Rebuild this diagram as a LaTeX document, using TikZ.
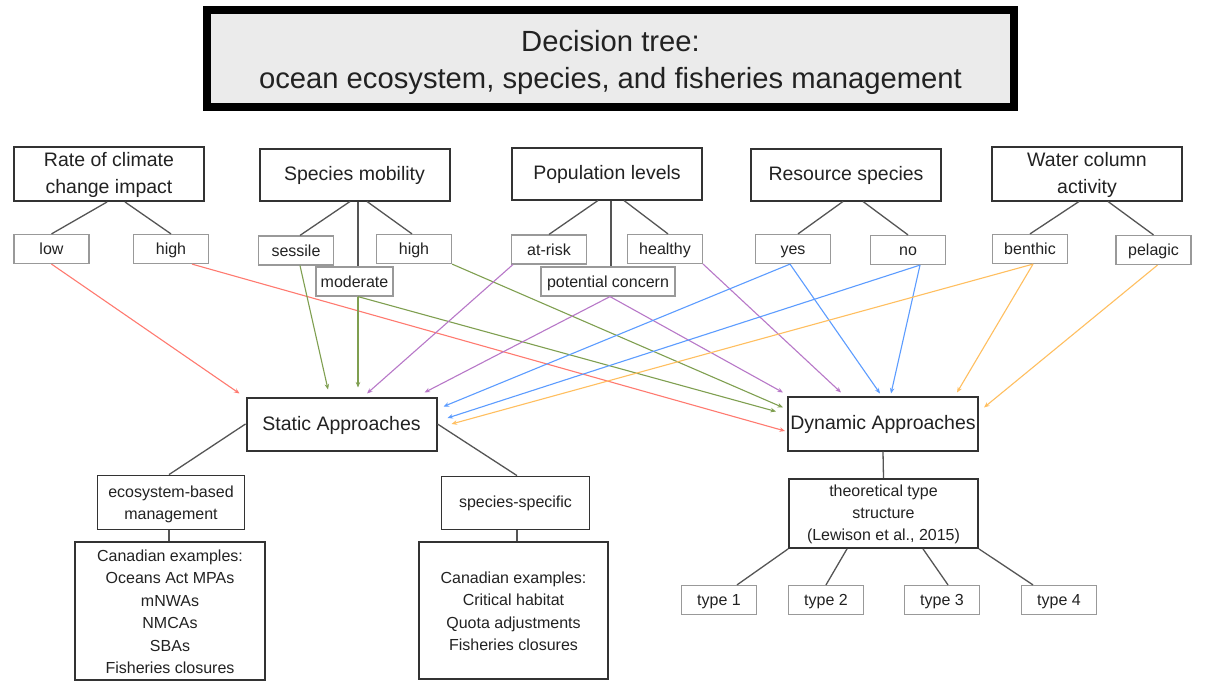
\documentclass[tikz,border=0pt]{standalone}
\usepackage{fontspec}
\setmainfont{Liberation Sans}
\usetikzlibrary{arrows.meta}
\definecolor{txt}{HTML}{222222}
\definecolor{catcol}{HTML}{333333}
\definecolor{optcol}{HTML}{999999}
\definecolor{linecol}{HTML}{555555}
\definecolor{titlefill}{HTML}{EBEBEB}
\definecolor{cred}{HTML}{FF7A70}
\definecolor{cgreen}{HTML}{7F9F50}
\definecolor{cpurple}{HTML}{B878C8}
\definecolor{cblue}{HTML}{5C9CFF}
\definecolor{corange}{HTML}{FFBF60}
\newcommand{\tx}[2]{\raisebox{#1}[\height][\depth]{\begin{tabular}{@{}c@{}}#2\end{tabular}}}
\tikzset{
  titlebox/.style={draw=black, line width=8pt, fill=titlefill, minimum width=807pt, minimum height=97pt, inner sep=0pt, text=txt, font=\fontsize{29.2}{37}\selectfont},
  catbox/.style={draw=catcol, line width=2pt, minimum width=190pt, minimum height=52pt, inner sep=0pt, text=txt, font=\fontsize{19.5}{27}\selectfont},
  optbox/.style={draw=optcol, line width=1.2pt, minimum width=75pt, minimum height=29pt, inner sep=0pt, text=txt, font=\fontsize{16}{18}\selectfont},
  apprbox/.style={draw=catcol, line width=2pt, minimum width=190pt, minimum height=53pt, inner sep=0pt, text=txt, font=\fontsize{19.5}{22}\selectfont},
  subbox/.style={draw=catcol, line width=1.8pt, inner sep=0pt, text=txt, font=\fontsize{16}{22}\selectfont},
  exbox/.style={draw=catcol, line width=2pt, inner sep=0pt, text=txt, font=\fontsize{16}{22.5}\selectfont},
  tline/.style={draw=linecol, line width=1.3pt},
  arr/.style={line width=1.1pt, -{Stealth[length=5.5pt,width=4.5pt]}}
}
\begin{document}
\begin{tikzpicture}[x=1pt,y=-1pt]
\useasboundingbox (0,0) rectangle (1221,685);
\fill[white] (0,0) rectangle (1221,685);

% title
\node[titlebox] (title) at (610.5,58.5) {\tx{-4.3pt}{Decision tree:\\ocean ecosystem, species, and fisheries management}};

% categories
\node[catbox] (clim) at (109,174) {\tx{-1pt}{Rate of climate\\change impact}};
\node[catbox] (mob) at (354.5,174.5) {\tx{-1pt}{Species mobility}};
\node[catbox] (pop) at (607,173.5) {\tx{-1pt}{Population levels}};
\node[catbox] (res) at (846,174.5) {\tx{-1pt}{Resource species}};
\node[catbox] (wat) at (1087,173.5) {\tx{-1pt}{Water column\\activity}};

% options
\node[optbox] (low) at (51.5,249) {\tx{-2pt}{low}};
\node[optbox] (chigh) at (171,249) {\tx{-2pt}{high}};
\node[optbox] (sessile) at (296,250.5) {\tx{-2pt}{sessile}};
\node[optbox] (mhigh) at (414,249) {\tx{-2pt}{high}};
\node[optbox, minimum width=77pt] (moderate) at (354.5,281.5) {\tx{-2pt}{moderate}};
\node[optbox] (atrisk) at (549,249.5) {\tx{-2pt}{at-risk}};
\node[optbox, minimum width=134pt] (potential) at (608,281.5) {\tx{-2pt}{potential concern}};
\node[optbox] (healthy) at (665,249) {\tx{-2pt}{healthy}};
\node[optbox] (yes) at (793,249) {\tx{-2pt}{yes}};
\node[optbox] (no) at (908,250) {\tx{-2pt}{no}};
\node[optbox] (benthic) at (1030,249) {\tx{-2pt}{benthic}};
\node[optbox] (pelagic) at (1153.5,250) {\tx{-2pt}{pelagic}};

% tree lines (categories)
\draw[tline] ([xshift=-2]clim.south) -- (low.north);
\draw[tline] ([xshift=16]clim.south) -- (chigh.north);
\draw[tline] ([xshift=-4.5]mob.south) -- ([xshift=4]sessile.north);
\draw[tline] ([xshift=3.5]mob.south) -- ([xshift=3.5]moderate.north);
\draw[tline] ([xshift=12.5]mob.south) -- ([xshift=-2]mhigh.north);
\draw[tline] ([xshift=-9]pop.south) -- (atrisk.north);
\draw[tline] ([xshift=4]pop.south) -- ([xshift=3]potential.north);
\draw[tline] ([xshift=17]pop.south) -- ([xshift=3]healthy.north);
\draw[tline] ([xshift=-3]res.south) -- ([xshift=5]yes.north);
\draw[tline] ([xshift=17]res.south) -- (no.north);
\draw[tline] ([xshift=-8]wat.south) -- (benthic.north);
\draw[tline] ([xshift=21]wat.south) -- (pelagic.north);

% approaches
\node[apprbox] (static) at (341.5,424) {\tx{-1.8pt}{Static Approaches}};
\node[apprbox, minimum height=54pt] (dynamic) at (883,423.5) {\tx{-2pt}{Dynamic Approaches}};

% arrows: red
\draw[arr, cred] (low.south) -- ([shift={(-6,-3)}]static.north west);
\draw[arr, cred] ([xshift=21]chigh.south) -- ([shift={(-2,7.5)}]dynamic.west);
% green
\draw[arr, cgreen] ([xshift=4]sessile.south) -- ([shift={(-13.5,-7)}]static.north);
\draw[arr, cgreen] ([xshift=3.5]moderate.south) -- ([shift={(16.5,-9)}]static.north);
\draw[arr, cgreen] ([xshift=3.5]moderate.south) -- ([shift={(-11,16)}]dynamic.north west);
\draw[arr, cgreen] (mhigh.south east) -- ([shift={(-4,12)}]dynamic.north west);
% purple
\draw[arr, cpurple] ([xshift=2]atrisk.south west) -- ([shift={(25.5,-3)}]static.north);
\draw[arr, cpurple] ([xshift=2]potential.south) -- ([shift={(-13,-4)}]static.north east);
\draw[arr, cpurple] ([xshift=2]potential.south) -- ([shift={(-4,-3)}]dynamic.north west);
\draw[arr, cpurple] (healthy.south east) -- ([shift={(-42,-3)}]dynamic.north);
% blue
\draw[arr, cblue] ([xshift=-3]yes.south) -- ([shift={(6,10)}]static.north east);
\draw[arr, cblue] ([xshift=-3]yes.south) -- ([shift={(-3,-2)}]dynamic.north);
\draw[arr, cblue] ([xshift=12]no.south) -- ([shift={(8,-2)}]dynamic.north);
\draw[arr, cblue] ([xshift=12]no.south) -- ([shift={(10,-6)}]static.east);
% orange
\draw[arr, corange] ([xshift=3]benthic.south) -- ([shift={(14,0)}]static.east);
\draw[arr, corange] ([xshift=3]benthic.south) -- ([shift={(-22,-3)}]dynamic.north east);
\draw[arr, corange] ([xshift=4]pelagic.south) -- ([shift={(5,12)}]dynamic.north east);

% static subtree
\node[subbox, minimum width=147pt, minimum height=54pt] (eco) at (171,502.5) {\tx{-1.8pt}{ecosystem-based\\management}};
\node[exbox, minimum width=190pt, minimum height=138pt] (ex1) at (170,611) {\tx{-2pt}{Canadian examples:\\Oceans Act MPAs\\mNWAs\\NMCAs\\SBAs\\Fisheries closures}};
\node[subbox, minimum width=148pt, minimum height=53pt] (spec) at (515.5,503) {\tx{-0.5pt}{species-specific}};
\node[exbox, minimum width=189pt, minimum height=137pt] (ex2) at (513.5,610.5) {\tx{-2pt}{Canadian examples:\\Critical habitat\\Quota adjustments\\Fisheries closures}};
\draw[tline] (static.west) -- ([xshift=-2]eco.north);
\draw[tline] (static.east) -- ([xshift=1.5]spec.north);
\draw[tline] ([xshift=-2]eco.south) -- ([xshift=-2]eco.south |- ex1.north);
\draw[tline] ([xshift=1.5]spec.south) -- ([xshift=1.5]spec.south |- ex2.north);

% dynamic subtree
\node[subbox, minimum width=189pt, minimum height=69pt] (theory) at (883.5,513.5) {\tx{-1pt}{theoretical type\\structure\\(Lewison et al., 2015)}};
\node[optbox] (t1) at (719,600) {\tx{-2.2pt}{type 1}};
\node[optbox] (t2) at (826,600) {\tx{-2.2pt}{type 2}};
\node[optbox] (t3) at (942,600) {\tx{-2.2pt}{type 3}};
\node[optbox] (t4) at (1059,600) {\tx{-2.2pt}{type 4}};
\draw[tline] (dynamic.south) -- (theory.north);
\draw[tline] (theory.south west) -- ([xshift=18]t1.north);
\draw[tline] ([xshift=-36.5]theory.south) -- (t2.north);
\draw[tline] ([xshift=39.5]theory.south) -- ([xshift=6]t3.north);
\draw[tline] (theory.south east) -- ([xshift=-26]t4.north);
\end{tikzpicture}
\end{document}
